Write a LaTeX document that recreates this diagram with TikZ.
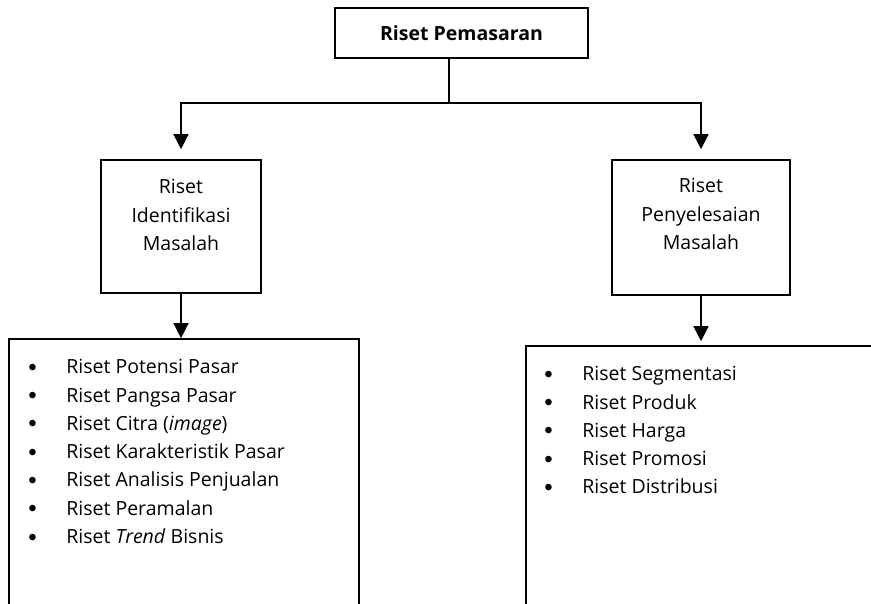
\documentclass[tikz,border=0pt]{standalone}
\usepackage{fontspec}
\setmainfont{Open Sans}
\newfontfamily\bulletfont{Liberation Sans}
\usetikzlibrary{arrows.meta,positioning}
\tikzset{
  box/.style={rectangle, draw=black, line width=1.6pt, fill=white, inner sep=0pt},
  boxtxt/.style={align=center, inner sep=0pt, font=\fontsize{19.5}{28.3}\selectfont},
  listtxt/.style={align=left, inner sep=0pt, font=\fontsize{19.5}{28.3}\selectfont},
  flow/.style={-{Triangle[length=15pt,width=15pt]}, line width=1.3pt},
  link/.style={line width=1.3pt},
}
\newcommand{\itm}[1]{\makebox[38pt][l]{\raisebox{-1.5pt}{\bulletfont\fontsize{24}{24}\selectfont\textbullet}}#1}

\begin{document}
\begin{tikzpicture}[x=1pt,y=-1pt]
\clip (0,0) rectangle (871,604);
\node[box, minimum width=253pt, minimum height=50pt, font=\bfseries\fontsize{19.5}{24}\selectfont] (riset) at (461.5,33) {Riset Pemasaran};
\coordinate (fork) at (449,103);
\node[box, minimum width=160pt, minimum height=133pt] (ident) at (181,226.5) {};
\node[box, minimum width=178pt, minimum height=135pt] (penye) at (701,227.5) {};
\node[boxtxt, below=20pt of ident.north] (identtxt) {Riset\\Identifikasi\\Masalah};
\node[boxtxt, below=19pt of penye.north] (penyetxt) {Riset\\Penyelesaian\\Masalah};
\node[box, minimum width=350pt, minimum height=361pt] (identlist) at (184,519.5) {};
\node[box, minimum width=352pt, minimum height=354pt] (penyelist) at (702,523) {};
\node[listtxt, below right=21pt and 20pt of identlist.north west] (identitems) {%
  \itm{Riset Potensi Pasar}\\
  \itm{Riset Pangsa Pasar}\\
  \itm{Riset Citra (\emph{image})}\\
  \itm{Riset Karakteristik Pasar}\\
  \itm{Riset Analisis Penjualan}\\
  \itm{Riset Peramalan}\\
  \itm{Riset \emph{Trend} Bisnis}};
\node[listtxt, below right=21pt and 19pt of penyelist.north west] (penyeitems) {%
  \itm{Riset Segmentasi}\\
  \itm{Riset Produk}\\
  \itm{Riset Harga}\\
  \itm{Riset Promosi}\\
  \itm{Riset Distribusi}};
\draw[link] (riset.south -| fork) -- (fork);
\draw[flow, shorten >=10pt] (fork) -| (ident.north);
\draw[flow, shorten >=10pt] (fork) -| (penye.north);
\draw[flow] (ident.south) -- (ident.south |- identlist.north);
\draw[flow, shorten >=4pt] (penye.south) -- (penye.south |- penyelist.north);
\end{tikzpicture}
\end{document}
